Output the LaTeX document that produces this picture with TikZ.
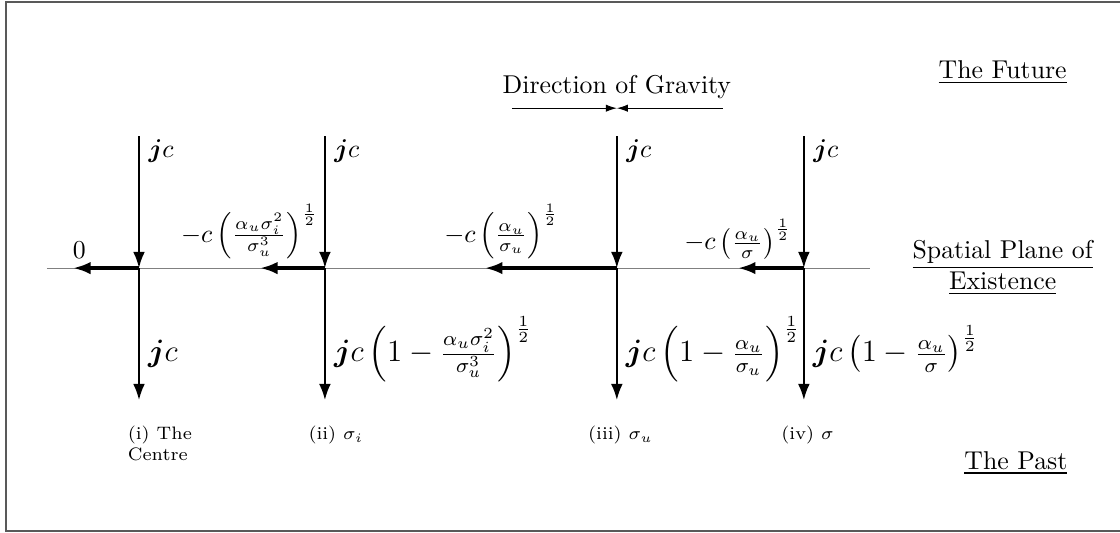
\documentclass[tikz,border=0pt]{standalone}
\usepackage{amsmath,amssymb}
\usepackage{bm}
\usetikzlibrary{arrows.meta,positioning,calc}

\begin{document}
\begin{tikzpicture}[
    plane/.style={gray, line width=0.4pt},
    worldline/.style={line width=0.8pt, -{Latex[length=2.2mm,width=1.6mm]}},
    drift/.style={line width=1.3pt, -{Latex[length=2.4mm,width=1.7mm]}},
    gravity/.style={line width=0.4pt, -{Latex[length=1.5mm,width=1mm]}},
    caption/.style={font=\scriptsize, anchor=north, align=left},
  ]
    \useasboundingbox (0,0) rectangle (15.27,7.265);
    % Frame
    \draw[gray!70!black, line width=0.6pt] (15.3,7.237) -- (0.082,7.237) -- (0.082,0.027) -- (15.3,0.027);

    % Spatial plane
    \coordinate (west) at (0.64,3.61);
    \coordinate (east) at (11.86,3.61);
    \draw[plane] (west) -- (east);

    % World lines
    \foreach \name/\x in {i/1.895, ii/4.43, iii/8.41, iv/10.96} {
        \coordinate (top-\name) at (\x,5.41);
        \coordinate (o-\name) at (\x,3.61);
        \coordinate (bot-\name) at (\x,1.81);
        \draw[worldline] (top-\name) -- (o-\name);
        \draw[worldline] (o-\name) -- (bot-\name);
        \node[anchor=north west, inner sep=1pt, xshift=2.5pt] (jc-\name) at (top-\name) {$\bm{j}c$};
    }

    % Velocities in the plane
    \coordinate (h-i) at (0.995,3.61);
    \coordinate (h-ii) at (3.544,3.61);
    \coordinate (h-iii) at (6.61,3.61);
    \coordinate (h-iv) at (10.06,3.61);
    \draw[drift] (o-i) -- (h-i);
    \draw[drift] (o-ii) -- (h-ii);
    \draw[drift] (o-iii) -- (h-iii);
    \draw[drift] (o-iv) -- (h-iv);
    \node[above, xshift=2.5pt] (v-i) at (h-i) {$0$};
    \node[above, xshift=-4pt] (v-ii) at (h-ii) {$-c\left(\frac{\alpha_u\sigma_i^2}{\sigma_u^3}\right)^{\frac{1}{2}}$};
    \node[above, xshift=6.5pt] (v-iii) at (h-iii) {$-c\left(\frac{\alpha_u}{\sigma_u}\right)^{\frac{1}{2}}$};
    \node[above] (v-iv) at (h-iv) {$-c\left(\frac{\alpha_u}{\sigma}\right)^{\frac{1}{2}}$};

    % Velocities in time
    \node[anchor=base west, font=\large] (w-i) at ($(bot-i)+(0,0.52)$) {$\bm{j}c$};
    \node[anchor=base west, font=\large] (w-ii) at ($(bot-ii)+(0,0.52)$) {$\bm{j}c\left(1-\frac{\alpha_u\sigma_i^2}{\sigma_u^3}\right)^{\frac{1}{2}}$};
    \node[anchor=base west, font=\large] (w-iii) at ($(bot-iii)+(0,0.52)$) {$\bm{j}c\left(1-\frac{\alpha_u}{\sigma_u}\right)^{\frac{1}{2}}$};
    \node[anchor=base west, font=\large] (w-iv) at ($(bot-iv)+(0,0.52)$) {$\bm{j}c\left(1-\frac{\alpha_u}{\sigma}\right)^{\frac{1}{2}}$};

    % Captions
    \node[caption] (c-i) at (2.18,1.58) {(i) The\\Centre};
    \node[caption] (c-ii) at (4.58,1.58) {(ii) $\sigma_i$};
    \node[caption] (c-iii) at (8.46,1.58) {(iii) $\sigma_u$};
    \node[caption] (c-iv) at (11.01,1.58) {(iv) $\sigma$};

    % Direction of gravity
    \coordinate (g-l) at (6.98,5.79);
    \coordinate (g-m) at (8.41,5.79);
    \coordinate (g-r) at (9.855,5.79);
    \draw[gravity] (g-l) -- (g-m);
    \draw[gravity] (g-r) -- (g-m);
    \node[above] (grav) at (g-m) {Direction of Gravity};

    % Regions
    \node (future) at (13.67,6.28) {\underline{The Future}};
    \node[align=center] (space) at (13.67,3.61) {\underline{Spatial Plane of}\\\underline{Existence}};
    \node (past) at (13.85,0.954) {\underline{The Past}};
\end{tikzpicture}
\end{document}
